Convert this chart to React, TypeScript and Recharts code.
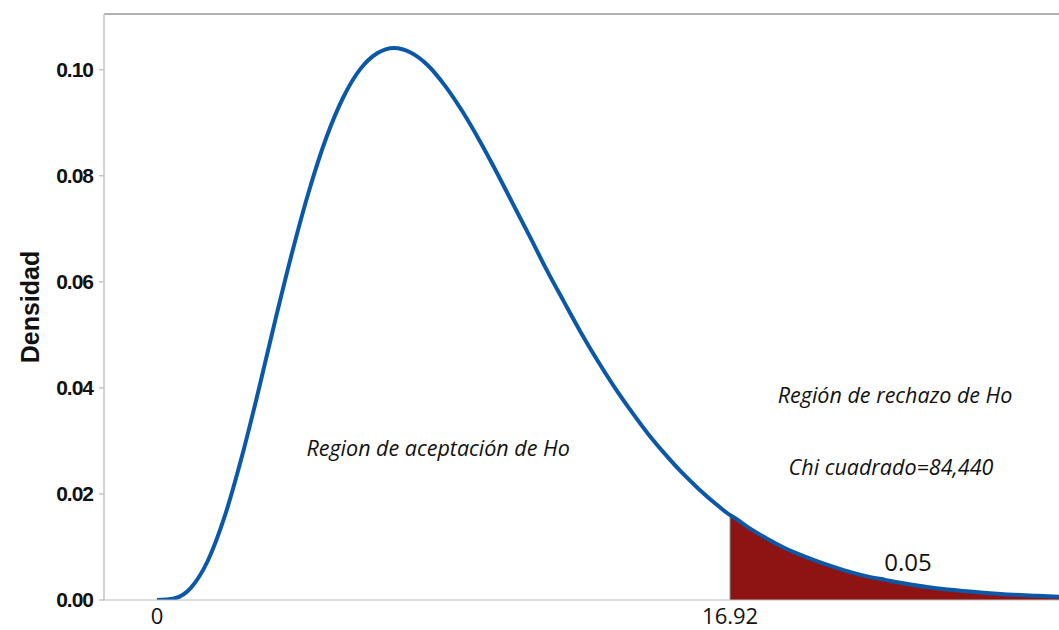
import {
  ComposedChart,
  Line,
  Area,
  XAxis,
  YAxis,
  ReferenceLine,
  ReferenceDot,
  Label,
} from 'recharts';

// valores (chi cuadrado, densidad)
const xValues = [
  0, 0.5, 1, 1.5, 2, 2.5, 3, 3.5, 4, 4.5, 5, 5.5, 6, 6.5, 7, 7.5, 8, 8.5, 9, 9.5, 10, 10.5, 11,
  11.5, 12, 12.5, 13, 13.5, 14, 14.5, 15, 15.5, 16, 16.5, 16.92, 17, 17.5, 18, 18.5, 19, 19.5, 20,
  20.5, 21, 21.5, 22, 23, 24, 25, 26, 26.63,
];
const densityValues = [
  0, 0.0003, 0.0023, 0.0074, 0.0158, 0.0269, 0.0396, 0.053, 0.0658, 0.0774, 0.0872, 0.0948,
  0.1001, 0.1031, 0.1041, 0.1032, 0.1008, 0.097, 0.0923, 0.0869, 0.081, 0.0748, 0.0686, 0.0623,
  0.0564, 0.0506, 0.0452, 0.0402, 0.0356, 0.0313, 0.0275, 0.024, 0.0209, 0.0181, 0.016, 0.0157,
  0.0135, 0.0116, 0.0099, 0.0085, 0.0073, 0.0062, 0.0052, 0.0044, 0.0038, 0.0032, 0.0022, 0.0016,
  0.0011, 0.0008, 0.0006,
];
const criticalValue = 16.92;
const criticalDensity = 0.016;
const xTicks = [0, 16.92];
const yTicks = [0, 0.02, 0.04, 0.06, 0.08, 0.1];

const data = xValues.map((x, i) => ({
  x,
  densidad: densityValues[i],
  cola: x >= criticalValue ? densityValues[i] : null,
}));

const noteLabel = (text: string, italic: boolean, size: number) => (props: any) => {
  const { viewBox } = props;
  return (
    <text
      x={viewBox.x}
      y={viewBox.y}
      textAnchor="middle"
      dominantBaseline="central"
      fontFamily="'Open Sans', sans-serif"
      fontStyle={italic ? 'italic' : 'normal'}
      fontSize={size}
      fill="#111"
    >
      {text}
    </text>
  );
};

export default function App() {
  return (
    <div style={{ position: 'absolute', left: 0, top: 0, background: '#fff' }}>
      <ComposedChart
        width={1059}
        height={630}
        data={data}
        margin={{ top: 14, right: 0, bottom: 0, left: 0 }}
      >
        <XAxis
          dataKey="x"
          type="number"
          domain={[-1.565, 26.63]}
          ticks={xTicks}
          height={30}
          tickFormatter={(v: number) => (v === 0 ? '0' : v.toFixed(2))}
          tickLine={false}
          tickMargin={2}
          stroke="#bbbbbb"
          tick={{ fill: '#111', fontSize: 22, fontFamily: "'Open Sans', sans-serif" }}
          allowDataOverflow
        />
        <YAxis
          type="number"
          domain={[0, 0.1105]}
          ticks={yTicks}
          width={104}
          tickFormatter={(v: number) => v.toFixed(2)}
          tickSize={5}
          tickMargin={6}
          stroke="#c4c4c4"
          strokeWidth={1.5}
          tick={{
            fill: '#111',
            fontSize: 21,
            fontWeight: 'bold',
            fontFamily: 'Arial, "Liberation Sans", sans-serif',
            letterSpacing: -1,
          }}
          allowDataOverflow
        >
          <Label
            content={() => (
              <text
                x={30}
                y={307}
                transform="rotate(-90 30 307)"
                textAnchor="middle"
                dominantBaseline="central"
                fontFamily='Arial, "Liberation Sans", sans-serif'
                fontWeight="bold"
                fontSize={25}
                fill="#111"
              >
                Densidad
              </text>
            )}
          />
        </YAxis>
        <ReferenceLine y={0.1105} stroke="#999999" strokeWidth={1.5} />
        <Area
          dataKey="cola"
          type="monotone"
          fill="#8e1414"
          fillOpacity={1}
          stroke="none"
          baseValue={0}
          isAnimationActive={false}
        />
        <ReferenceLine
          segment={[
            { x: criticalValue, y: 0 },
            { x: criticalValue, y: criticalDensity },
          ]}
          stroke="#777777"
          strokeWidth={1}
        />
        <Line
          dataKey="densidad"
          type="monotone"
          stroke="#0c58a8"
          strokeWidth={4}
          dot={false}
          isAnimationActive={false}
        />
        <ReferenceDot x={8.3} y={0.0288} r={0} stroke="none">
          <Label content={noteLabel('Region de aceptación de Ho', true, 21.5)} />
        </ReferenceDot>
        <ReferenceDot x={21.79} y={0.0388} r={0} stroke="none">
          <Label content={noteLabel('Región de rechazo de Ho', true, 21.5)} />
        </ReferenceDot>
        <ReferenceDot x={21.67} y={0.0251} r={0} stroke="none">
          <Label content={noteLabel('Chi cuadrado=84,440', true, 21.5)} />
        </ReferenceDot>
        <ReferenceDot x={22.17} y={0.0072} r={0} stroke="none">
          <Label content={noteLabel('0.05', false, 24)} />
        </ReferenceDot>
      </ComposedChart>
    </div>
  );
}
